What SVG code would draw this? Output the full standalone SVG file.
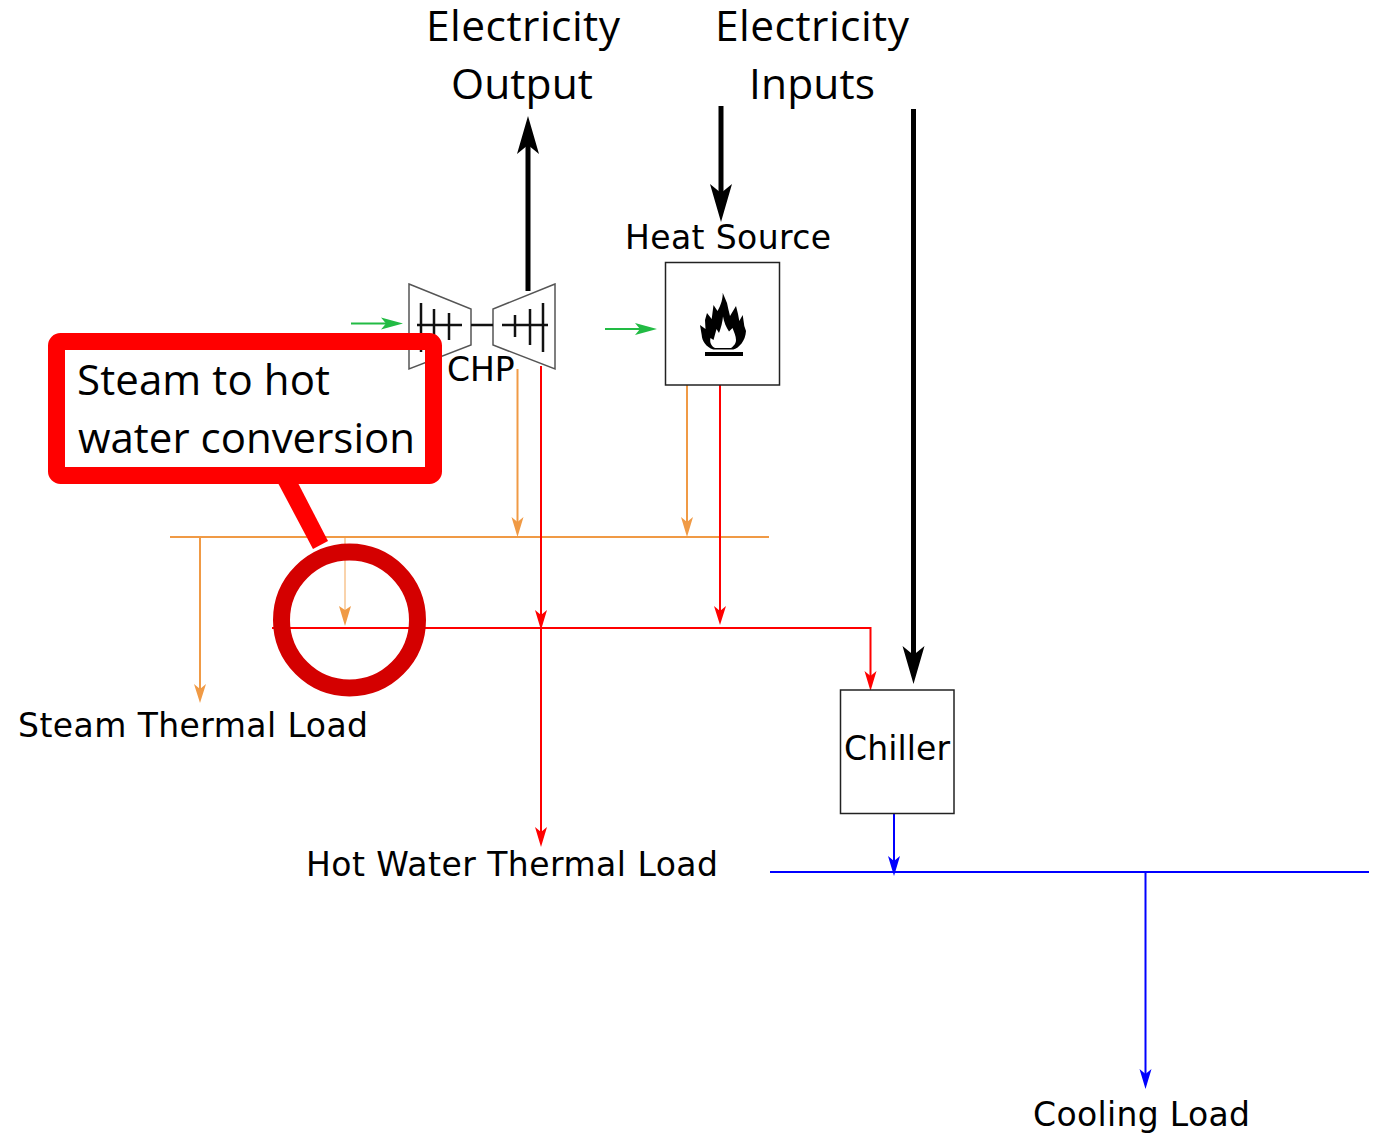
<svg xmlns="http://www.w3.org/2000/svg" width="1381" height="1133" viewBox="0 0 1381 1133">
<style>
.big{font-family:"Open Sans","Noto Sans",sans-serif;font-size:42.500px;fill:#000}
.lab{font-family:"DejaVu Sans",sans-serif;font-size:33px;fill:#000}
.call{font-family:"Open Sans","Noto Sans",sans-serif;font-size:42px;fill:#000}
.box{fill:#fff;stroke:#222;stroke-width:1.500}
.sym{fill:#fff;stroke:#555;stroke-width:1.500}
.tick{fill:none;stroke:#111;stroke-width:2.500}
.o{fill:none;stroke:#f09a45;stroke-width:2}
.r{fill:none;stroke:#f00;stroke-width:2}
.b{fill:none;stroke:#00f;stroke-width:2}
.g{fill:none;stroke:#22bb44;stroke-width:2}
.k{fill:none;stroke:#000;stroke-width:5}
</style>
<g id="connectors">
<path class="o" d="M170 537H769"/>
<path class="o" d="M200 537V690"/>
<path d="M194 684L200 689L206 684L200 703Z" fill="#f09a45"/>
<path d="M345 538V612" fill="none" stroke="#f9d3ac" stroke-width="2"/>
<path d="M339 606L345 610L351 606L345 626Z" fill="#f09a45"/>
<path class="o" d="M517.500 369V525"/>
<path d="M511.500 517L517.500 522L523.500 517L517.500 537Z" fill="#f09a45"/>
<path class="o" d="M687 385V525"/>
<path d="M681 517L687 522L693 517L687 537Z" fill="#f09a45"/>
<path class="r" d="M272 628H870.500V680"/>
<path d="M864.500 671L870.500 676L876.500 671L870.500 691Z" fill="#f00"/>
<path class="r" d="M541 366V835"/>
<path d="M535 610L541 615L547 610L541 630Z" fill="#f00"/>
<path d="M535 827L541 832L547 827L541 847Z" fill="#f00"/>
<path class="r" d="M720 385V615"/>
<path d="M714 606L720 611L726 606L720 625Z" fill="#f00"/>
<path class="b" d="M770 872H1369"/>
<path class="b" d="M894 814V865"/>
<path d="M888 856L894 861L900 856L894 876Z" fill="#00f"/>
<path class="b" d="M1145.500 872V1078"/>
<path d="M1139.500 1069L1145.500 1074L1151.500 1069L1145.500 1089Z" fill="#00f"/>
<path class="g" d="M351 323.500H390"/>
<path d="M381 317.500L386 323.500L381 329.500L403 323.500Z" fill="#22bb44"/>
<path class="g" d="M605 329H644"/>
<path d="M635 323L640 329L635 335L657 329Z" fill="#22bb44"/>
<path class="k" d="M528 291V140"/>
<path d="M517 154L528 145L539 154L528 116Z" fill="#000"/>
<path class="k" d="M721 106V196"/>
<path d="M710 184L721 193L732 184L721 222Z" fill="#000"/>
<path class="k" d="M913.500 109V660"/>
<path d="M902.500 646L913.500 655L924.500 646L913.500 684Z" fill="#000"/>
</g>
<g id="chp">
<path class="sym" d="M409 284L471 309V345L409 369Z"/>
<path class="sym" d="M555 284L493 309V345L555 369Z"/>
<path class="tick" d="M471 325H493M417 325H462M421 303V352M434 309V345M449 313V340M502 325H548M515 315V337M530 309V345M543 303V352"/>
<text class="lab" x="447" y="381">CHP</text>
</g>
<g id="heat-source">
<rect class="box" x="665.500" y="262.500" width="114" height="122.500"/>
<path d="M722.700 292.700L727 303L728.300 309L730 316L736 306L738 314L739.300 321L742.700 315L744.300 326L746 331C745.500 341 739 348 733.300 349.500L713.300 349.500C706 347 702 341 701.700 335L700 325L705.500 329L705 320L707 313L711.700 319L713.500 305L717.500 311C721 305 723 298 722.700 292.700Z" fill="#000"/>
<path d="M723 316.500C724 322 726 327 729 331.500L732.500 328C734 332 736 336 736 340C736 344 733 346.500 731 348L715 348C711 346 709.500 342 710.500 338L713.500 340L716.500 329L719 333C721 328 722.500 322 723 316.500Z" fill="#fff"/>
<rect x="705" y="352" width="38" height="4" fill="#000"/>
<text class="lab" x="625" y="249" textLength="206">Heat Source</text>
</g>
<g id="chiller">
<rect class="box" x="840.500" y="690" width="113.500" height="123.500"/>
<text class="lab" x="844" y="760" textLength="106">Chiller</text>
</g>
<g id="callout">
<path d="M278 483H298L328 541L313 549Z" fill="#f00"/>
<rect x="56.500" y="341.500" width="377" height="134" rx="4" fill="none" stroke="#f00" stroke-width="17"/>
<text class="call" x="77" y="395" textLength="253">Steam to hot</text>
<text class="call" x="78" y="453" textLength="337">water conversion</text>
</g>
<g id="highlight-circle">
<circle cx="349.500" cy="620" r="68" fill="none" stroke="#d40000" stroke-width="17"/>
</g>
<g id="labels">
<text class="big" x="426" y="41" textLength="194">Electricity</text>
<text class="big" x="451" y="99" textLength="142">Output</text>
<text class="big" x="715" y="41" textLength="194">Electricity</text>
<text class="big" x="749" y="99" textLength="126">Inputs</text>
<text class="lab" x="18" y="737" textLength="350">Steam Thermal Load</text>
<text class="lab" x="306" y="876" textLength="412">Hot Water Thermal Load</text>
<text class="lab" x="1033" y="1126" textLength="217">Cooling Load</text>
</g>
</svg>
